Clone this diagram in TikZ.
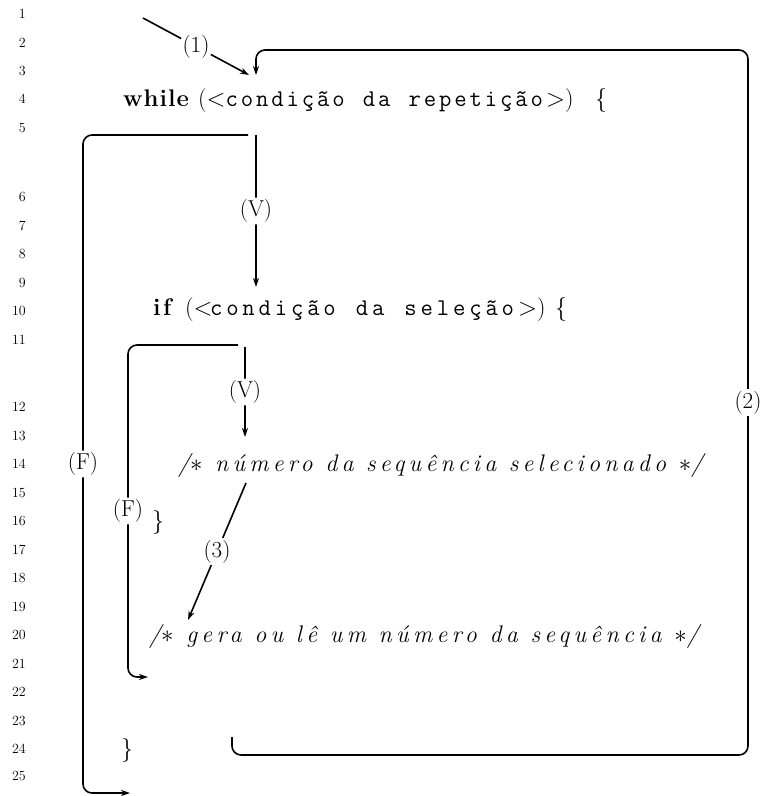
\documentclass[tikz,border=0pt]{standalone}
\usepackage{fontspec}
\usetikzlibrary{arrows.meta}
% fonts for keywords, spaced code and spaced comments
\newfontfamily\kwfont{Latin Modern Roman}
\newfontfamily\codefont{Latin Modern Mono}
\newfontfamily\cmtfont{Latin Modern Roman}
\newcommand\kw[2]{{\kwfont\bfseries\addfontfeatures{LetterSpace=#1}#2}}
\newcommand\cmtit[2]{{\cmtfont\itshape\addfontfeatures{LetterSpace=#1}#2}}
% code set on a fixed character pitch (use ~ for blanks)
\newlength\cpitch
\def\spreadend{}
\def\spreadloop#1{\ifx#1\spreadend\else\makebox[\cpitch][c]{#1}\expandafter\spreadloop\fi}
\newcommand\codesp[2]{{\codefont\setlength\cpitch{#1}\spreadloop#2\spreadend}}

\begin{document}
\begin{tikzpicture}[x=1pt,y=-1pt,
  every node/.style={inner sep=0pt},
  codeline/.style={anchor=base west, font=\fontsize{24}{28}\selectfont},
  cmtline/.style={anchor=base west, font=\fontsize{24}{28}\selectfont},
  lnum/.style={anchor=east, font=\fontsize{14}{16}\selectfont},
  flow/.style={line width=1.6pt, rounded corners=9pt},
  arr/.style={flow, -{Stealth[length=9pt,width=6pt]}},
  lab/.style={fill=white, inner sep=2pt, font=\fontsize{23}{25}\selectfont}]

\useasboundingbox (0,0) rectangle (762,796);

% line numbers
\foreach \n/\y in {1/14,2/43,3/71,4/99,5/128,6/197,7/226,8/254,9/283,10/311,
                   11/340,12/407,13/436,14/464,15/493,16/521,17/550,18/578,
                   19/607,20/635,21/664,22/692,23/721,24/749,25/776}
  \node[lnum] (ln\n) at (26,\y) {\n};

% while header
\node[codeline] (whilekw) at (123,106) {\kw{4}{while}};
\node[codeline] (whileopen) at (198,106) {($<$};
\node[codeline] (whilecond) at (224,106) {\codesp{15.25pt}{condição~da~repetição}};
\node[codeline] (whileclose) at (546,106) {$>$)};
\node[codeline] (whilebrace) at (595,106) {\{};
% if header
\node[codeline] (ifkw) at (153,315) {\kw{10}{if}};
\node[codeline] (ifopen) at (185,315) {($<$};
\node[codeline] (ifcond) at (208,315) {\codesp{16.2pt}{condição~da~seleção}};
\node[codeline] (ifclose) at (518,315) {$>$)};
\node[codeline] (ifbrace) at (555,315) {\{};
% body
\node[cmtline] (sel) at (178,471)
  {\cmtit{17.5}{/$\ast$ número da sequência selecionado $\ast$/}};
\node[codeline] (ifend) at (152,528) {\}};
\node[cmtline] (gen) at (149,642)
  {\cmtit{18}{/$\ast$ gera ou lê um número da sequência $\ast$/}};
\node[codeline] (whileend) at (121,756) {\}};

% connector points
\coordinate (s1) at (143,18);
\coordinate (e1) at (249,75);
\coordinate (s2) at (232,737);
\coordinate (e2) at (256,75);
\coordinate (sv1) at (256,135);
\coordinate (ev1) at (256,287);
\coordinate (sf1) at (248,135);
\coordinate (ef1) at (130,793);
\coordinate (sv2) at (245,347);
\coordinate (ev2) at (245,437);
\coordinate (sf2) at (238,345);
\coordinate (ef2) at (148,677);
\coordinate (s3) at (246,483);
\coordinate (e3) at (188,620);

% (1) entry
\draw[arr] (s1) -- node[lab] (l1) {(1)} (e1);
% (2) loop back
\draw[arr] (s2) -- (s2 |- 0,755) -- (748,755)
  -- node[lab] (l2) {(2)} (748,50) -- (e2 |- 0,50) -- (e2);
% while: true
\draw[arr] (sv1) -- node[lab] (lv1) {(V)} (ev1);
% while: false
\draw[arr] (sf1) -- (83,135) -- node[lab] (lf1) {(F)} (83,793) -- (ef1);
% if: true
\draw[arr] (sv2) -- node[lab] (lv2) {(V)} (ev2);
% if: false
\draw[arr] (sf2) -- (128,345) -- node[lab] (lf2) {(F)} (128,677) -- (ef2);
% (3) next statement
\draw[arr] (s3) -- node[lab] (l3) {(3)} (e3);
\end{tikzpicture}
\end{document}
